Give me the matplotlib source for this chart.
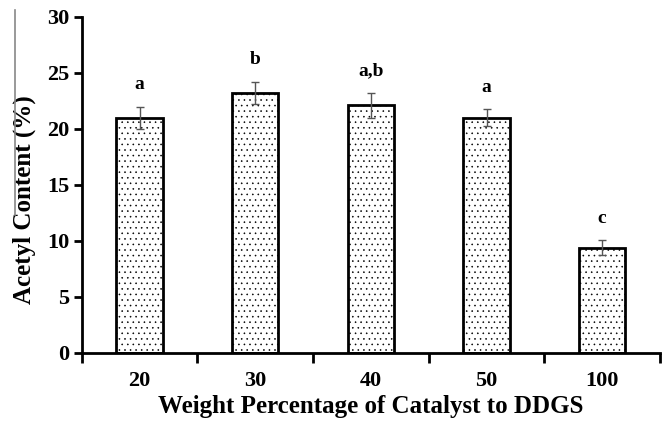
import matplotlib
matplotlib.use("Agg")
import matplotlib.pyplot as plt
from matplotlib.lines import Line2D
import numpy as np

categories = ["20", "30", "40", "50", "100"]
values = [21.0, 23.2, 22.1, 21.0, 9.4]
errors = [1.0, 1.0, 1.1, 0.75, 0.65]
letters = ["a", "b", "a,b", "a", "c"]
yticks = [0, 5, 10, 15, 20, 25, 30]

plt.rcParams["font.family"] = ["Liberation Serif", "DejaVu Serif"]
plt.rcParams["font.weight"] = "bold"
plt.rcParams["hatch.color"] = "#b4b4b4"
plt.rcParams["hatch.linewidth"] = 0.4

fig = plt.figure(figsize=(6.65, 4.21), dpi=100)
ax = fig.add_axes([81.7/665, (421-352.7)/421, (660-81.7)/665, (352.7-17)/421])

x = np.arange(len(categories))
ax.bar(x, values, width=0.4, color="white", edgecolor="black", linewidth=2,
       hatch="...", zorder=2)
ax.errorbar(x, values, yerr=errors, fmt="none", ecolor="#555555",
            elinewidth=1, capsize=3, capthick=1, zorder=3)
for xi, v, e, t in zip(x, values, errors, letters):
    ax.text(xi, v + e + 1.2, t, ha="center", va="bottom", fontsize=14,
            fontweight="bold")

ax.set_xlim(-0.5, len(categories) - 0.5)
ax.set_ylim(0, 30)
ax.set_yticks(yticks)
ax.set_yticklabels([str(t) for t in yticks])
ax.set_xticks(x)
ax.set_xticklabels(categories)
ax.set_xticks(np.arange(len(categories) + 1) - 0.5, minor=True)
ax.tick_params(axis="x", which="major", length=0, pad=13, labelsize=16)
ax.tick_params(axis="x", which="minor", length=7, width=2, direction="out")
ax.tick_params(axis="y", length=6, width=2, direction="out", labelsize=16, pad=3)
for s in ["top", "right"]:
    ax.spines[s].set_visible(False)
for s in ["left", "bottom"]:
    ax.spines[s].set_linewidth(2)

ax.set_xlabel("Weight Percentage of Catalyst to DDGS", fontsize=18,
              fontweight="bold", labelpad=3)
ax.set_ylabel("Acetyl Content (%)", fontsize=18, fontweight="bold",
              va="center")
ax.yaxis.set_label_coords(-0.10, 0.455)

fig.add_artist(Line2D([15/665, 15/665], [1-10/421, 1-215/421],
                      color="#888888", linewidth=1.2))

fig.savefig("out.png", dpi=100)
